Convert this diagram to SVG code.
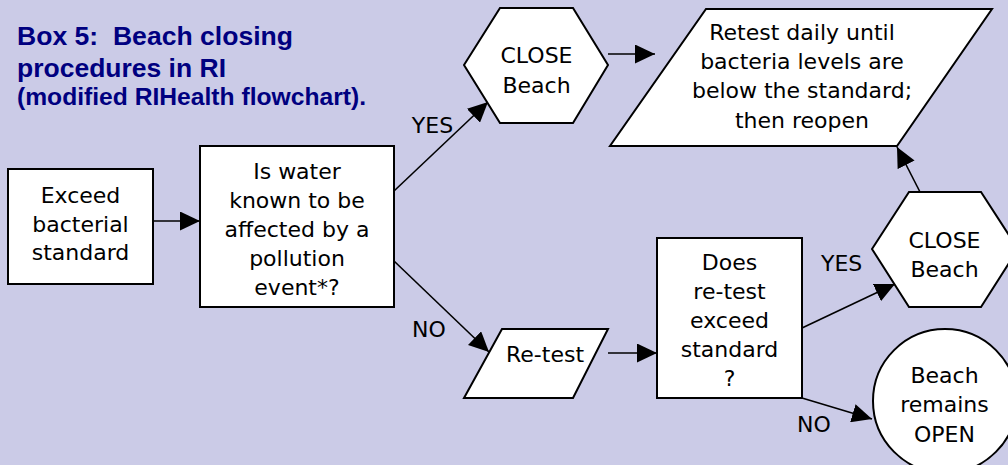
<svg xmlns="http://www.w3.org/2000/svg" width="1008" height="465" viewBox="0 0 1008 465">
<defs>
<marker id="ah" markerUnits="userSpaceOnUse" markerWidth="20" markerHeight="19" refX="20" refY="9.5" orient="auto">
<path d="M0,0 L20,9.5 L0,19 z" fill="#000"/>
</marker>
<style>
.node{fill:#fff;stroke:#000;stroke-width:2}
.t{font-family:"DejaVu Sans",sans-serif;font-size:22px;fill:#000;text-anchor:middle}
.lbl{font-family:"DejaVu Sans",sans-serif;font-size:22px;fill:#000;text-anchor:middle}
.title{font-family:"Liberation Sans",Arial,sans-serif;font-weight:bold;fill:#000080}
.edge{stroke:#000;stroke-width:1.6;fill:none;marker-end:url(#ah)}
</style>
</defs>
<rect x="0" y="0" width="1008" height="465" fill="#CBCBE7"/>
<g id="title">
<text class="title" x="17" y="45" font-size="26" xml:space="preserve" textLength="276" lengthAdjust="spacingAndGlyphs">Box 5:  Beach closing</text>
<text class="title" x="17" y="77" font-size="26" textLength="209" lengthAdjust="spacingAndGlyphs">procedures in RI</text>
<text class="title" x="17" y="105" font-size="23" textLength="349" lengthAdjust="spacingAndGlyphs">(modified RIHealth flowchart).</text>
</g>
<g id="connectors">
<line class="edge" x1="153" y1="221" x2="200" y2="221"/>
<line class="edge" x1="394" y1="191" x2="488" y2="102"/>
<line class="edge" x1="608" y1="54" x2="655" y2="54"/>
<line class="edge" x1="394" y1="261" x2="489" y2="352"/>
<line class="edge" x1="608" y1="353" x2="657" y2="353"/>
<line class="edge" x1="802" y1="328" x2="895" y2="284"/>
<line class="edge" x1="802" y1="398" x2="872" y2="419"/>
<line class="edge" x1="920" y1="192" x2="897" y2="147"/>
<text class="lbl" x="432.5" y="132.7">YES</text>
<text class="lbl" x="429" y="337">NO</text>
<text class="lbl" x="841.7" y="270.7">YES</text>
<text class="lbl" x="814" y="431.7">NO</text>
</g>
<g id="exceed">
<rect class="node" x="8" y="169" width="145" height="115"/>
<text class="t" x="80.5" y="203.3">Exceed</text>
<text class="t" x="80.5" y="231.7">bacterial</text>
<text class="t" x="80.5" y="260">standard</text>
</g>
<g id="pollution">
<rect class="node" x="200" y="146" width="194" height="161"/>
<text class="t" x="297" y="179.3">Is water</text>
<text class="t" x="297" y="208">known to be</text>
<text class="t" x="297" y="237">affected by a</text>
<text class="t" x="297" y="266">pollution</text>
<text class="t" x="297" y="294.5">event*?</text>
</g>
<g id="close1">
<polygon class="node" points="464,65 500,8 573,8 608,65 573,123 500,123"/>
<text class="t" x="536.5" y="63.3">CLOSE</text>
<text class="t" x="536.5" y="92.7">Beach</text>
</g>
<g id="retest-daily">
<polygon class="node" points="706,9 992,9 897,146 610,146"/>
<text class="t" x="802" y="40">Retest daily until</text>
<text class="t" x="802" y="69.3">bacteria levels are</text>
<text class="t" x="802" y="98.3">below the standard;</text>
<text class="t" x="802" y="127.7">then reopen</text>
</g>
<g id="retest">
<polygon class="node" points="502,329 608,329 573,398 464,398"/>
<text class="t" x="545" y="362">Re-test</text>
</g>
<g id="decision">
<rect class="node" x="657" y="238" width="145" height="160"/>
<text class="t" x="729.5" y="270">Does</text>
<text class="t" x="729.5" y="299.3">re-test</text>
<text class="t" x="729.5" y="328.3">exceed</text>
<text class="t" x="729.5" y="357.3">standard</text>
<text class="t" x="729.5" y="386">?</text>
</g>
<g id="close2">
<polygon class="node" points="872,249 909,192 981,192 1018,249 981,307 909,307"/>
<text class="t" x="944.5" y="248">CLOSE</text>
<text class="t" x="944.5" y="276.7">Beach</text>
</g>
<g id="open">
<circle class="node" cx="945" cy="401" r="72"/>
<text class="t" x="944.5" y="383.3">Beach</text>
<text class="t" x="944.5" y="412.3">remains</text>
<text class="t" x="944.5" y="441.7">OPEN</text>
</g>
</svg>
